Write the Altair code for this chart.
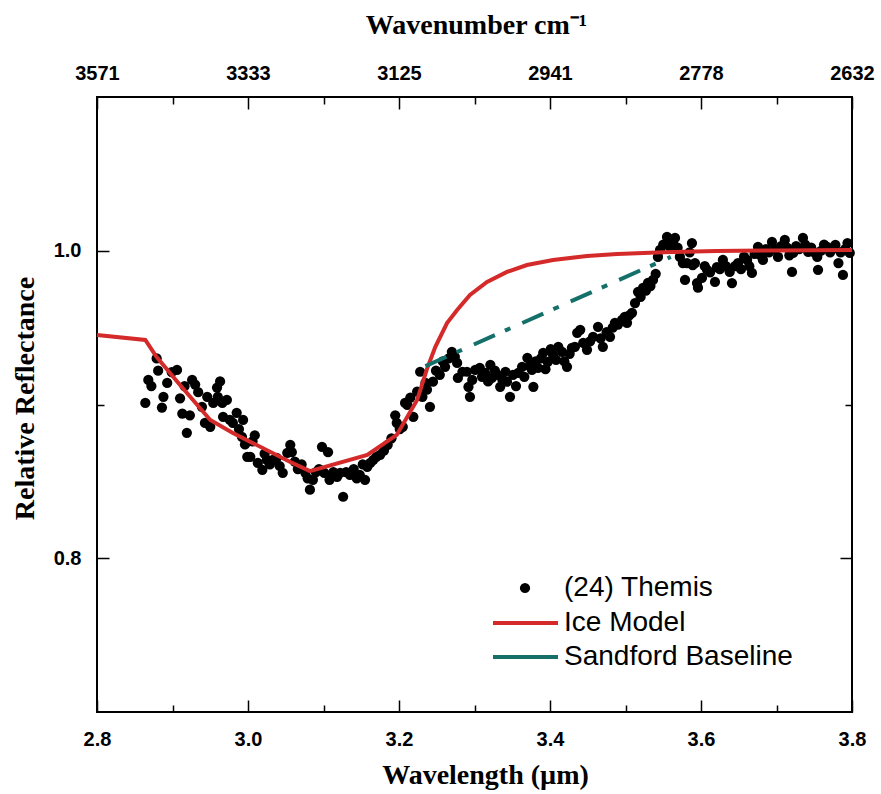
import altair as alt
import pandas as pd

# ---------------- data ----------------
themis_wl = [
    2.864, 2.868, 2.872, 2.879, 2.881, 2.886, 2.888, 2.893, 2.899, 2.906, 2.910, 2.913, 2.916, 2.919,
    2.923, 2.926, 2.930, 2.934, 2.939, 2.943, 2.946, 2.950, 2.954, 2.959, 2.960, 2.963, 2.966, 2.967,
    2.972, 2.976, 2.980, 2.985, 2.988, 2.992,
    2.9935, 2.996, 2.999, 3.003, 3.006, 3.009, 3.013, 3.019, 3.022, 3.025, 3.029, 3.033, 3.038, 3.042,
    3.046, 3.052, 3.056, 3.058, 3.062, 3.066, 3.071, 3.076, 3.079, 3.082, 3.086, 3.090, 3.094, 3.098,
    3.101, 3.106, 3.108, 3.113, 3.118, 3.122, 3.126, 3.130, 3.135, 3.140, 3.144, 3.148, 3.152, 3.155,
    3.158, 3.162, 3.166, 3.170, 3.175, 3.180, 3.185, 3.190, 3.195, 3.197, 3.201, 3.205, 3.208, 3.211,
    3.215, 3.219, 3.224, 3.228, 3.231, 3.235, 3.237, 3.241,
    3.245, 3.249, 3.254, 3.258, 3.261, 3.266, 3.270, 3.274, 3.277, 3.278, 3.284, 3.290, 3.292, 3.294,
    3.297, 3.301, 3.307, 3.310, 3.314, 3.318, 3.321, 3.323, 3.327, 3.330, 3.334, 3.337, 3.341, 3.343,
    3.347, 3.351, 3.355, 3.358, 3.363, 3.366, 3.370, 3.373, 3.376, 3.378, 3.381, 3.384, 3.388, 3.391,
    3.394, 3.397, 3.401, 3.404, 3.408, 3.411, 3.416, 3.419, 3.4225, 3.426, 3.429, 3.433, 3.436, 3.440,
    3.444, 3.449,
    3.453, 3.457, 3.4636, 3.467, 3.470, 3.475, 3.4795, 3.483, 3.486, 3.490, 3.4954, 3.499, 3.502, 3.505,
    3.5086, 3.5126, 3.5166, 3.520, 3.5232, 3.527, 3.5298, 3.533, 3.5364, 3.540, 3.543, 3.5457, 3.550,
    3.555, 3.558, 3.563, 3.5656, 3.569, 3.572, 3.576, 3.5788, 3.5815, 3.585, 3.588, 3.589, 3.592,
    3.5947, 3.596, 3.6013, 3.605, 3.608,
    3.612, 3.6185, 3.621, 3.625, 3.629, 3.633, 3.638, 3.641, 3.645, 3.649, 3.653, 3.657, 3.661, 3.664,
    3.6675, 3.671, 3.6755, 3.679, 3.682, 3.686, 3.690, 3.694, 3.698, 3.702, 3.706, 3.711, 3.714, 3.717,
    3.7205, 3.722, 3.726, 3.730, 3.735, 3.738, 3.742, 3.746, 3.750, 3.754, 3.755, 3.759, 3.763, 3.767,
    3.771, 3.774, 3.778, 3.782, 3.785, 3.788, 3.791, 3.794, 3.797,
]
themis_refl = [
    0.901, 0.916, 0.912, 0.930, 0.922, 0.898, 0.905, 0.914, 0.921, 0.9225, 0.904, 0.894, 0.912, 0.8816,
    0.893, 0.916, 0.913, 0.908, 0.8985, 0.888, 0.905, 0.8855, 0.901, 0.911, 0.905, 0.915, 0.901, 0.892,
    0.903, 0.890, 0.888, 0.8946, 0.884, 0.879,
    0.890, 0.874, 0.866, 0.866, 0.876, 0.880, 0.862, 0.8575, 0.868, 0.864, 0.861, 0.864, 0.8653, 0.860,
    0.8556, 0.8686, 0.8738, 0.869, 0.8628, 0.858, 0.861, 0.8556, 0.852, 0.8446, 0.851, 0.856, 0.858, 0.8725,
    0.8556, 0.869, 0.851, 0.856, 0.853, 0.8556, 0.840, 0.856, 0.8543, 0.858, 0.852, 0.8543, 0.861, 0.851,
    0.8595, 0.862, 0.864, 0.866, 0.8673, 0.870, 0.8738, 0.878, 0.893, 0.888, 0.884, 0.8855, 0.901, 0.8998,
    0.9045, 0.892, 0.9083, 0.9213, 0.905, 0.914, 0.9096, 0.8985,
    0.9148, 0.922, 0.9193, 0.928, 0.9245, 0.930, 0.9343, 0.931, 0.927, 0.9173, 0.9213, 0.9213, 0.9115, 0.905,
    0.916, 0.9226, 0.9239, 0.918, 0.9206, 0.915, 0.9258, 0.9173, 0.922, 0.9193, 0.9115, 0.916, 0.9213, 0.9148,
    0.905, 0.9193, 0.912, 0.9206, 0.9245, 0.918, 0.9304, 0.925, 0.9226, 0.9115, 0.928, 0.9239, 0.930, 0.9336,
    0.923, 0.9278, 0.936, 0.9323, 0.929, 0.9375, 0.9343, 0.928, 0.9245, 0.933, 0.9369, 0.9375, 0.9466, 0.9486,
    0.9401, 0.9356,
    0.941, 0.944, 0.9505, 0.943, 0.9375, 0.947, 0.944, 0.950, 0.9531, 0.952, 0.955, 0.957, 0.9531, 0.958,
    0.9596, 0.966, 0.9733, 0.970, 0.9759, 0.974, 0.9791, 0.977, 0.981, 0.985, 0.996, 1.0005, 1.004,
    1.009, 1.003, 1.005, 1.0083, 1.002, 0.996, 0.992, 0.981, 0.992, 0.999, 1.005, 0.9907, 0.992,
    0.979, 0.976, 0.9824, 0.990, 0.9876,
    0.986, 0.9797, 0.9894, 0.988, 0.994, 0.990, 0.9862, 0.979, 0.990, 0.992, 0.988, 0.996, 0.994, 0.990,
    0.9856, 0.998, 1.0025, 0.997, 0.994, 1.001, 0.999, 1.0057, 1.001, 0.996, 1.003, 1.007, 1.002, 0.997,
    0.9862, 0.9986, 1.003, 1.001, 1.0083, 1.004, 0.9992, 1.002, 0.999, 0.996, 0.9876, 1.000, 1.004, 1.0025,
    0.999, 1.001, 1.0038, 0.992, 0.999, 0.9843, 1.001, 1.005, 0.9986,
]

ice_wl = [2.800, 2.864, 2.879, 2.910, 2.950, 2.980, 3.056, 3.082, 3.158, 3.197, 3.224, 3.237, 3.248,
          3.2636, 3.277, 3.294, 3.3166, 3.343, 3.3695, 3.404, 3.449, 3.489, 3.550, 3.620, 3.700, 3.800]
ice_refl = [0.9452, 0.9420, 0.9309, 0.9127, 0.8899, 0.8815, 0.8626, 0.8567, 0.8672, 0.8802, 0.9029,
            0.923, 0.9374, 0.953, 0.9615, 0.9712, 0.9797, 0.9862, 0.9907, 0.994, 0.9966, 0.9979,
            0.9990, 0.9998, 1.0002, 1.0005]

base_wl = [3.235, 3.560]
base_refl = [0.925, 0.996]

x_major = [2.8, 3.0, 3.2, 3.4, 3.6, 3.8]
x_minor = [2.9, 3.1, 3.3, 3.5, 3.7]
wavenumber_labels = ["3571", "3333", "3125", "2941", "2778", "2632"]
y_labels = [0.8, 1.0]
y_major = [0.8, 1.0]
y_minor = [0.9]

series = ["(24) Themis", "Ice Model", "Sandford Baseline"]
colors = ["#000000", "#d42a2a", "#15706a"]

# ---------------- tables ----------------
themis_df = pd.DataFrame({"wl": themis_wl, "refl": themis_refl, "series": series[0]})
ice_df = pd.DataFrame({"wl": ice_wl, "refl": ice_refl, "series": series[1]})
base_df = pd.DataFrame({"wl": base_wl, "refl": base_refl, "series": series[2]})

xs = alt.Scale(domain=[2.8, 3.8], nice=False, zero=False)
ys = alt.Scale(domain=[0.7, 1.1], nice=False, zero=False)


def axis(**kw):
    base = dict(grid=False, domain=False, labels=False, ticks=False, title=None,
                labelFlush=False, labelOverlap=False, labelBound=False)
    base.update(kw)
    return alt.Axis(**base)


label_font = dict(labelFont="Liberation Sans", labelFontWeight="bold", labelFontSize=20,
                  labelColor="black")
title_font = dict(titleFont="Liberation Serif", titleFontWeight="bold", titleFontSize=28,
                  titleColor="black")
tick_style = dict(tickColor="black", tickWidth=1.5)

top_expr = " : ".join(
    f"abs(datum.value - {v}) < 0.001 ? '{l}'" for v, l in zip(x_major, wavenumber_labels)
) + " : ''"

ax_bottom_labels = axis(orient="bottom", labels=True, values=x_major, format=".1f", labelPadding=17,
                        title="Wavelength (µm)", titleX=388, titleY=71, titleAlign="center",
                        titleBaseline="alphabetic", **label_font, **title_font)
ax_bottom_major = axis(orient="bottom", ticks=True, values=x_major, tickSize=12, offset=-12, **tick_style)
ax_bottom_minor = axis(orient="bottom", ticks=True, values=x_minor, tickSize=7, offset=-7, **tick_style)
ax_top_labels = axis(orient="top", labels=True, values=x_major, labelExpr=top_expr, labelPadding=14,
                     title="Wavenumber cm⁻¹", titleX=379, titleY=-64, titleAlign="center",
                     titleBaseline="alphabetic", **label_font, **title_font)
ax_top_major = axis(orient="top", ticks=True, values=x_major, tickSize=12, offset=-12, **tick_style)
ax_top_minor = axis(orient="top", ticks=True, values=x_minor, tickSize=7, offset=-7, **tick_style)

ay_left_labels = axis(orient="left", labels=True, values=y_labels, format=".1f", labelPadding=16,
                      title="Relative Reflectance", titleX=-64, titleY=301, titleAngle=270,
                      titleAlign="center", titleBaseline="alphabetic", **label_font, **title_font)
ay_left_major = axis(orient="left", ticks=True, values=y_major, tickSize=12, offset=-12, **tick_style)
ay_left_minor = axis(orient="left", ticks=True, values=y_minor, tickSize=7, offset=-7, **tick_style)
ay_right_major = axis(orient="right", ticks=True, values=y_major, tickSize=12, offset=-12, **tick_style)
ay_right_minor = axis(orient="right", ticks=True, values=y_minor, tickSize=7, offset=-7, **tick_style)

legend_text = dict(title=None, orient="none", direction="vertical", labelFont="Liberation Sans",
                   labelFontSize=28, labelColor="black", labelLimit=400, rowPadding=0, padding=0,
                   clipHeight=34)

point_legend = alt.Legend(legendX=414, legendY=474, symbolType="circle", symbolSize=105,
                          symbolStrokeWidth=0, labelOffset=25, **legend_text)
line_legend = alt.Legend(legendX=394, legendY=509, symbolType="stroke", symbolSize=4225,
                         symbolStrokeWidth=4, labelOffset=4, symbolDash=[1, 0], **legend_text)

points = alt.Chart(themis_df).mark_circle(size=105, opacity=1).encode(
    x=alt.X("wl:Q", scale=xs, axis=ax_bottom_labels),
    y=alt.Y("refl:Q", scale=ys, axis=ay_left_labels),
    color=alt.Color("series:N", scale=alt.Scale(domain=series[:1], range=colors[:1]),
                    legend=point_legend),
)

line_scale = alt.Scale(domain=series[1:], range=colors[1:])

ice = alt.Chart(ice_df).mark_line(strokeWidth=4).encode(
    x=alt.X("wl:Q", scale=xs, axis=ax_bottom_major),
    y=alt.Y("refl:Q", scale=ys, axis=ay_left_major),
    stroke=alt.Stroke("series:N", scale=line_scale, legend=line_legend),
)

baseline = alt.Chart(base_df).mark_line(strokeWidth=4, strokeDash=[23, 11, 6, 13]).encode(
    x=alt.X("wl:Q", scale=xs, axis=ax_bottom_minor),
    y=alt.Y("refl:Q", scale=ys, axis=ay_left_minor),
    stroke=alt.Stroke("series:N", scale=line_scale, legend=line_legend),
)

guide1 = alt.Chart(ice_df).mark_line(opacity=0).encode(
    x=alt.X("wl:Q", scale=xs, axis=ax_top_labels),
    y=alt.Y("refl:Q", scale=ys, axis=ay_right_major),
)
guide2 = alt.Chart(ice_df).mark_line(opacity=0).encode(
    x=alt.X("wl:Q", scale=xs, axis=ax_top_major),
    y=alt.Y("refl:Q", scale=ys, axis=ay_right_minor),
)
guide3 = alt.Chart(ice_df).mark_line(opacity=0).encode(
    x=alt.X("wl:Q", scale=xs, axis=ax_top_minor),
    y=alt.Y("refl:Q", scale=ys, axis=None),
)

chart = alt.layer(points, ice, baseline, guide1, guide2, guide3).resolve_axis(
    x="independent", y="independent"
).properties(
    width=755, height=615,
    autosize=alt.AutoSizeParams(type="none"),
    padding={"left": 97, "top": 97, "right": 29, "bottom": 82},
    background="white",
).configure_view(stroke="black", strokeWidth=2)

chart.save("out.html", embed_options={"renderer": "svg", "actions": False})
